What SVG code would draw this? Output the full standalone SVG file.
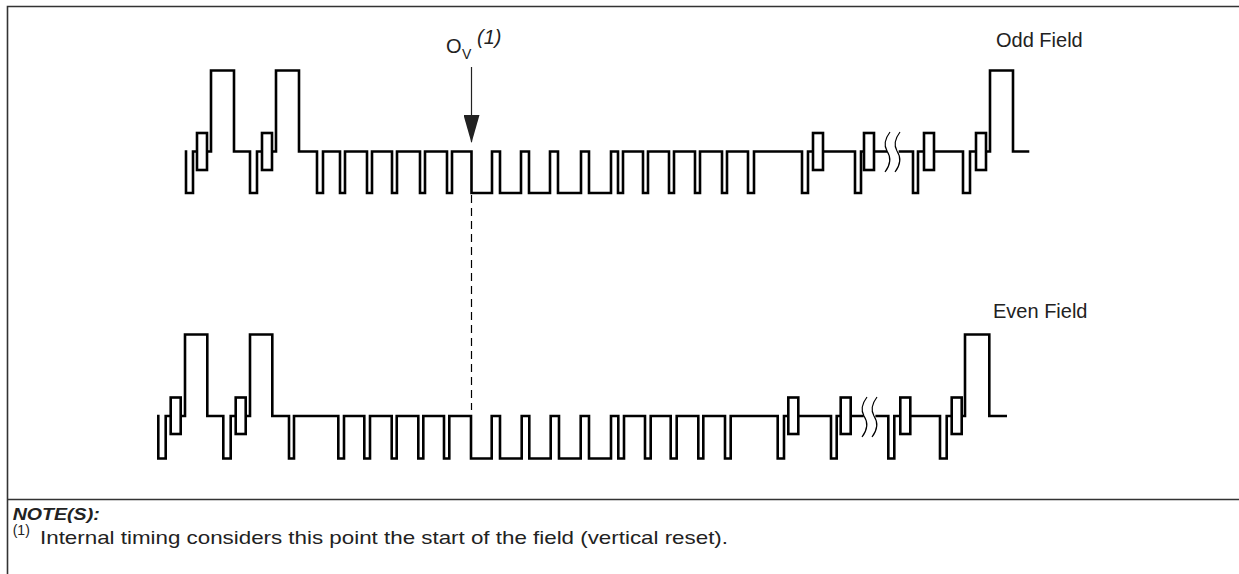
<svg xmlns="http://www.w3.org/2000/svg" width="1239" height="574" viewBox="0 0 1239 574">
<style>
.frame{stroke:#333;stroke-width:1.6;fill:none}
.wave{stroke:#000;stroke-width:2.6;fill:none;stroke-linejoin:miter;stroke-linecap:square}
.box{stroke:#000;stroke-width:2.6;fill:#fff}
.brk{stroke:#000;stroke-width:1.2;fill:none}
.lbl{font-family:"Liberation Sans",Arial,sans-serif;fill:#222}
</style>
<defs>
<marker id="ah" viewBox="0 0 28 16" refX="27" refY="8" markerWidth="28" markerHeight="16" markerUnits="userSpaceOnUse" orient="auto">
<path d="M0,0 L28,8 L0,16 Z" fill="#222"/>
</marker>
</defs>
<rect width="1239" height="574" fill="#fff"/>
<g id="frame">
<path class="frame" d="M7.5,574 V6.5 H1239"/>
<path class="frame" d="M7.5,499.5 H1239"/>
</g>
<g id="odd-field">
<path class="wave" d="M186,151.5 V193 H193 V151.5 H197 M207,151.5 H211 V70.5 H234 V151.5 H250 V193 H257 V151.5 H262 M272,151.5 H276 V70.5 H299 V151.5 H317 V193 H323 V151.5 H340 V193 H345 V151.5 H367 V193 H372 V151.5 H392 V193 H397 V151.5 H420 V193 H425 V151.5 H447 V193 H452 V151.5 H471.5 V193 H492 V151.5 H500 V193 H521 V151.5 H529 V193 H550 V151.5 H558 V193 H581 V151.5 H589 V193 H611 V151.5 H618 V193 H623 V151.5 H643 V193 H648 V151.5 H669 V193 H674 V151.5 H695 V193 H700 V151.5 H722 V193 H727 V151.5 H748 V193 H754 V151.5 H802 V193 H808 V151.5 H813 M823,151.5 H855 V193 H861 V151.5 H864 M874,151.5 H886 M900,151.5 H913 V193 H918 V151.5 H924 M934,151.5 H963 V193 H970 V151.5 H976 M986,151.5 H990 V70.5 H1013 V151.5 H1028"/>
<rect class="box" x="197" y="133" width="10" height="37"/>
<rect class="box" x="262" y="133" width="10" height="37"/>
<rect class="box" x="813" y="133" width="10" height="37"/>
<rect class="box" x="864" y="133" width="10" height="37"/>
<rect class="box" x="924" y="133" width="10" height="37"/>
<rect class="box" x="976" y="133" width="10" height="37"/>
<path class="brk" d="M890,132 C884,140 884,146 887,151 C891,157 891,164 885,172 M900,132 C894,140 894,146 897,151 C901,157 901,164 895,172"/>
<text class="lbl" x="996" y="47" font-size="20">Odd Field</text>
</g>
<g id="even-field">
<path class="wave" d="M158.3,416 V458.5 H165.7 V416 H170.7 M180.7,416 H185 V334.5 H207.3 V416 H223.3 V458.5 H230.7 V416 H235.7 M245.7,416 H250 V334.5 H272.3 V416 H289 V458.5 H294 V416 H338.3 V458.5 H344 V416 H364.3 V458.5 H370 V416 H391.7 V458.5 H396.7 V416 H418.3 V458.5 H423.3 V416 H444 V458.5 H449.3 V416 H471 V458.5 H491.7 V416 H500 V458.5 H521.7 V416 H529.3 V458.5 H550.7 V416 H559 V458.5 H580.7 V416 H589 V458.5 H611 V416 H618.3 V458.5 H624 V416 H645 V458.5 H650.7 V416 H670.7 V458.5 H676.7 V416 H698.3 V458.5 H703.3 V416 H725 V458.5 H730.7 V416 H777.7 V458.5 H784 V416 H788.3 M798.3,416 H831 V458.5 H836.7 V416 H840.7 M850.7,416 H862.5 M876.7,416 H888.3 V458.5 H894.3 V416 H900 M910.7,416 H940 V458.5 H946.7 V416 H951.7 M962,416 H965 V334.5 H989.3 V416 H1005.7"/>
<rect class="box" x="170.7" y="397.5" width="10" height="36.5"/>
<rect class="box" x="235.7" y="397.5" width="10" height="36.5"/>
<rect class="box" x="788.3" y="397.5" width="10" height="36.5"/>
<rect class="box" x="840.7" y="397.5" width="10" height="36.5"/>
<rect class="box" x="900.3" y="397.5" width="10" height="36.5"/>
<rect class="box" x="951.7" y="397.5" width="10" height="36.5"/>
<path class="brk" d="M867,397 C861,405 861,411 864,416 C868,422 868,429 862,437 M877,397 C871,405 871,411 874,416 C878,422 878,429 872,437"/>
<text class="lbl" x="993" y="318" font-size="20">Even Field</text>
</g>
<g id="ov-marker">
<text class="lbl" x="446" y="53" font-size="20">O</text>
<text class="lbl" x="462" y="59" font-size="14">V</text>
<text class="lbl" x="477" y="44" font-size="20" font-style="italic">(1)</text>
</g>
<g id="connectors">
<line x1="471.5" y1="67" x2="471.5" y2="142" stroke="#222" stroke-width="1.2" marker-end="url(#ah)"/>
<line x1="471.5" y1="195" x2="471.5" y2="410" stroke="#000" stroke-width="1.2" stroke-dasharray="8 5"/>
</g>
<g id="notes">
<text class="lbl" x="12.7" y="519.5" font-size="16" font-weight="bold" font-style="italic" textLength="87" lengthAdjust="spacingAndGlyphs">NOTE(S):</text>
<text class="lbl" x="12.7" y="535" font-size="14">(1)</text>
<text class="lbl" x="40" y="543.5" font-size="18.5" textLength="688" lengthAdjust="spacingAndGlyphs">Internal timing considers this point the start of the field (vertical reset).</text>
</g>
</svg>
